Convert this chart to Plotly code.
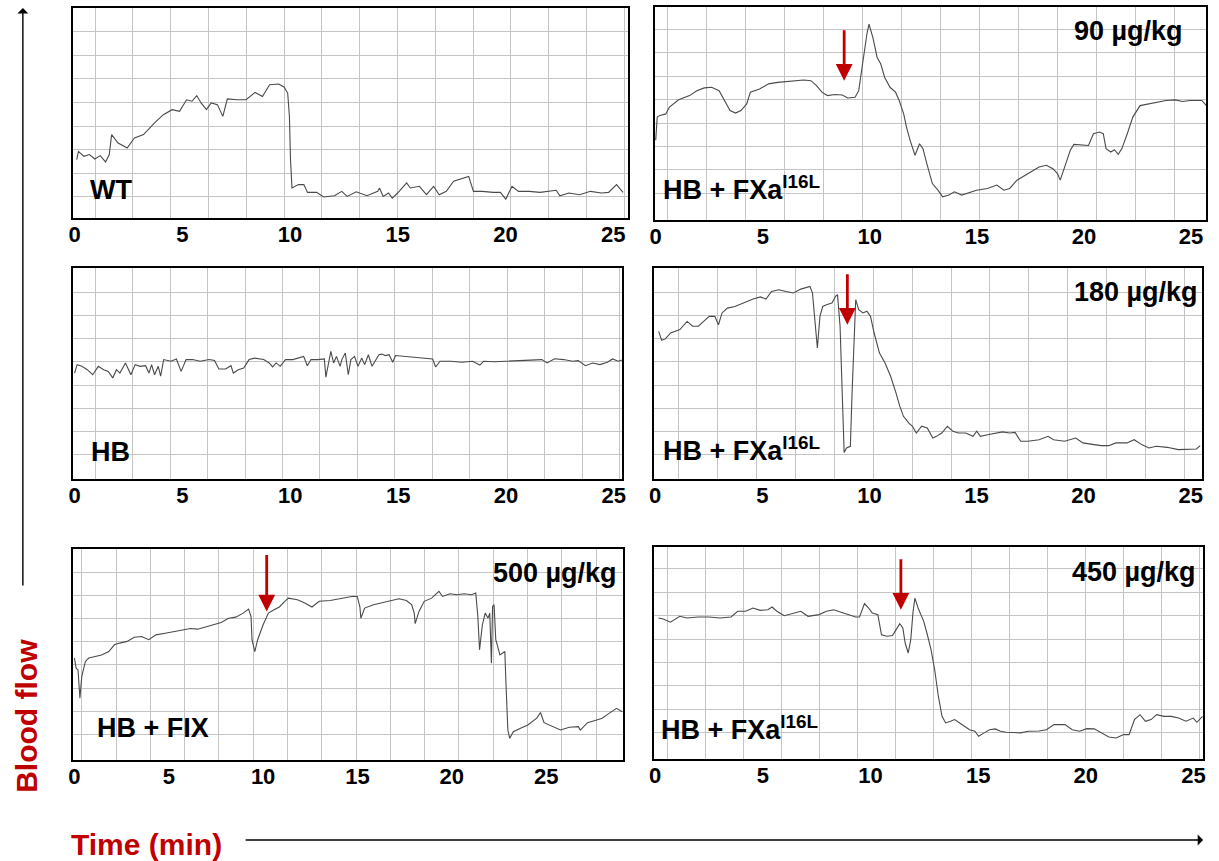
import plotly.graph_objects as go

FONT = "Liberation Sans, Arial, sans-serif"
RED = "#C00000"
GRID = "#c4c4c4"
TRACE = "#4a4a4a"

# Laser-Doppler blood-flow recordings: (time in min, flow in arbitrary units 0-100)
wt_trace = [
    (0.10, 27.8), (0.18, 31.7), (0.43, 29.4), (0.69, 30.2), (0.94, 28.1), (1.19, 29.7),
    (1.44, 26.7), (1.61, 30.2), (1.72, 39.7), (2.02, 35.7), (2.44, 33.3), (2.78, 38.1),
    (3.20, 39.7), (3.70, 45.2), (4.12, 49.2), (4.53, 51.6), (4.87, 50.8), (5.20, 56.3),
    (5.45, 55.6), (5.67, 58.3), (5.87, 54.8), (6.12, 51.6), (6.34, 54.8), (6.63, 54.0),
    (6.88, 48.4), (7.09, 56.7), (7.55, 56.3), (7.96, 56.3), (8.38, 59.8), (8.72, 57.9),
    (9.05, 63.5), (9.47, 63.8), (9.72, 62.4), (9.89, 59.5), (9.97, 48.4), (10.02, 27.8),
    (10.09, 14.3), (10.39, 15.9), (10.64, 15.9), (10.81, 12.2), (11.23, 12.2), (11.56, 10.0),
    (12.06, 10.6), (12.40, 12.7), (12.65, 10.3), (13.07, 12.5), (13.57, 10.6), (14.07, 12.7),
    (14.15, 14.3), (14.32, 10.3), (14.57, 11.9), (14.74, 9.5), (14.99, 11.9), (15.41, 16.7),
    (15.58, 14.3), (16.00, 15.1), (16.33, 11.1), (16.66, 15.1), (16.92, 11.1), (17.25, 12.7),
    (17.59, 17.5), (18.00, 19.0), (18.29, 19.8), (18.51, 12.7), (18.92, 12.7), (19.43, 12.2),
    (19.76, 12.2), (20.01, 9.0), (20.30, 15.1), (20.60, 12.7), (21.10, 12.7), (21.60, 12.2),
    (21.94, 12.7), (22.35, 13.2), (22.52, 10.6), (22.94, 11.9), (23.44, 11.1), (23.94, 12.7),
    (24.45, 11.9), (24.78, 12.2), (25.15, 15.9), (25.45, 12.2),
]

fxa90_trace = [
    (0.00, 37.4), (0.07, 48.3), (0.20, 49.1), (0.47, 49.8), (0.64, 53.0), (1.07, 56.4),
    (1.58, 58.4), (1.92, 60.7), (2.27, 62.0), (2.61, 62.3), (2.96, 60.7), (3.21, 56.1),
    (3.47, 51.4), (3.73, 50.2), (3.98, 51.4), (4.25, 54.5), (4.42, 60.0), (4.85, 61.5),
    (5.27, 63.9), (5.70, 64.6), (6.22, 65.1), (6.56, 65.4), (6.91, 65.7), (7.25, 65.4),
    (7.51, 63.1), (7.76, 60.0), (8.02, 58.4), (8.37, 58.9), (8.71, 58.7), (8.97, 57.3),
    (9.31, 57.6), (9.48, 60.7), (9.65, 73.2), (9.86, 87.2), (9.96, 91.9), (10.14, 85.7),
    (10.34, 76.3), (10.51, 73.2), (10.69, 67.0), (10.94, 62.3), (11.20, 60.0), (11.37, 56.1),
    (11.58, 49.8), (11.71, 43.6), (11.88, 37.4), (12.11, 30.4), (12.32, 35.8), (12.48, 33.5),
    (12.66, 26.5), (12.92, 17.1), (13.18, 14.0), (13.40, 10.9), (13.69, 11.7), (13.95, 13.2),
    (14.29, 11.7), (14.64, 12.8), (14.98, 14.0), (15.49, 14.8), (15.93, 16.4), (16.26, 14.0),
    (16.53, 14.8), (16.87, 18.7), (17.38, 21.8), (17.90, 24.9), (18.24, 25.7), (18.55, 24.1),
    (18.76, 21.8), (18.89, 18.7), (19.10, 24.9), (19.36, 32.7), (19.53, 35.5), (19.96, 35.0),
    (20.21, 35.0), (20.44, 40.5), (20.73, 41.3), (20.90, 40.5), (21.03, 33.5), (21.25, 31.9),
    (21.42, 33.0), (21.60, 30.8), (21.77, 33.5), (22.02, 40.5), (22.28, 48.3), (22.62, 53.7),
    (23.05, 54.5), (23.39, 55.3), (23.83, 56.1), (24.26, 56.4), (24.60, 55.6), (24.94, 56.1),
    (25.28, 56.1), (25.50, 56.1), (25.72, 53.7),
]

hb_trace = [
    (0.00, 50.2), (0.12, 54.2), (0.34, 53.4), (0.59, 51.8), (0.84, 49.4), (1.10, 53.4),
    (1.35, 51.8), (1.56, 51.0), (1.77, 47.9), (1.94, 51.8), (2.10, 50.2), (2.36, 55.0),
    (2.61, 49.4), (2.81, 54.2), (3.04, 53.4), (3.29, 53.7), (3.45, 50.2), (3.57, 54.2),
    (3.71, 49.4), (3.88, 53.4), (3.99, 48.7), (4.13, 56.6), (4.47, 55.8), (4.72, 56.9),
    (4.94, 51.0), (5.17, 56.6), (5.47, 56.6), (5.82, 55.8), (6.24, 56.6), (6.49, 56.2),
    (6.69, 52.1), (7.00, 52.1), (7.25, 53.7), (7.36, 50.2), (7.59, 51.8), (7.84, 52.6),
    (8.09, 56.6), (8.35, 57.3), (8.77, 56.6), (9.02, 55.0), (9.18, 53.1), (9.35, 55.0),
    (9.53, 53.4), (9.78, 56.6), (10.12, 56.6), (10.37, 57.3), (10.62, 58.1), (10.79, 53.7),
    (10.96, 56.6), (11.29, 56.6), (11.58, 56.9), (11.65, 48.3), (11.75, 53.4), (11.88, 60.5),
    (12.01, 55.0), (12.14, 58.1), (12.31, 53.4), (12.39, 56.6), (12.55, 59.7), (12.69, 49.4),
    (12.81, 56.6), (12.98, 58.1), (13.14, 53.4), (13.31, 57.3), (13.45, 54.2), (13.62, 58.9),
    (13.79, 53.4), (13.98, 56.6), (14.11, 58.9), (14.24, 59.2), (14.41, 58.5), (14.58, 58.9),
    (14.75, 55.3), (14.88, 58.5), (15.25, 58.1), (15.76, 57.7), (16.27, 57.3), (16.60, 56.9),
    (16.74, 53.1), (16.94, 55.8), (17.45, 55.8), (17.95, 55.3), (18.45, 55.8), (18.79, 54.0),
    (18.96, 55.8), (19.47, 55.6), (19.98, 55.8), (20.47, 56.1), (21.15, 56.2), (21.66, 56.6),
    (21.91, 55.0), (22.25, 57.0), (22.67, 56.6), (23.09, 55.8), (23.35, 56.1), (23.68, 53.7),
    (24.02, 55.0), (24.36, 54.2), (24.70, 55.3), (24.94, 56.9), (25.20, 55.8), (25.45, 56.6),
]

fxa180_trace = [
    (0.16, 70.0), (0.30, 65.7), (0.47, 66.4), (0.72, 69.2), (1.15, 70.8), (1.49, 74.7),
    (1.75, 72.4), (2.01, 72.4), (2.26, 74.7), (2.52, 77.1), (2.78, 77.1), (2.95, 73.1),
    (3.12, 78.7), (3.37, 81.0), (3.72, 81.8), (4.14, 83.7), (4.57, 85.3), (4.91, 86.3),
    (5.17, 85.3), (5.43, 88.9), (5.77, 89.7), (6.11, 88.9), (6.45, 88.2), (6.80, 90.0),
    (7.22, 91.3), (7.34, 88.2), (7.45, 75.5), (7.57, 62.1), (7.69, 77.1), (7.82, 81.8),
    (7.99, 82.6), (8.25, 83.4), (8.42, 86.6), (8.51, 87.4), (8.63, 72.4), (8.73, 40.8),
    (8.82, 12.6), (8.93, 14.7), (9.11, 15.5), (9.19, 40.8), (9.28, 64.5), (9.36, 85.0),
    (9.50, 80.3), (9.70, 78.7), (9.88, 79.5), (10.05, 77.1), (10.22, 69.2), (10.47, 59.7),
    (10.73, 55.0), (10.99, 48.7), (11.24, 40.8), (11.42, 34.4), (11.59, 29.7), (11.84, 26.5),
    (12.01, 25.0), (12.19, 21.8), (12.44, 25.0), (12.70, 24.2), (12.96, 19.4), (13.13, 20.2),
    (13.38, 21.8), (13.64, 25.0), (13.90, 22.6), (14.15, 21.8), (14.49, 21.8), (14.84, 20.2),
    (15.01, 22.6), (15.18, 20.2), (15.52, 21.0), (15.86, 21.8), (16.21, 22.3), (16.55, 21.8),
    (16.80, 22.1), (17.06, 17.9), (17.40, 17.9), (17.92, 18.6), (18.34, 20.2), (18.60, 18.6),
    (19.11, 17.9), (19.63, 19.4), (19.97, 17.1), (20.48, 16.3), (20.83, 15.8), (21.17, 15.8),
    (21.51, 17.1), (22.02, 17.1), (22.36, 18.6), (22.71, 16.3), (23.05, 14.7), (23.39, 15.5),
    (23.90, 15.0), (24.42, 13.9), (24.93, 13.9), (25.27, 14.2), (25.44, 15.8),
]

fix500_trace = [
    (0.00, 48.3), (0.09, 43.5), (0.19, 42.7), (0.29, 29.3), (0.39, 39.6), (0.48, 42.7),
    (0.58, 46.7), (0.76, 48.3), (1.06, 49.1), (1.44, 49.8), (1.82, 51.4), (2.12, 54.6),
    (2.40, 55.4), (2.79, 56.2), (3.17, 58.2), (3.56, 58.5), (3.94, 57.0), (4.32, 59.3),
    (4.81, 60.1), (5.29, 60.9), (5.68, 61.7), (6.15, 62.3), (6.53, 62.0), (7.02, 63.3),
    (7.40, 64.1), (7.78, 65.2), (8.17, 67.2), (8.55, 67.7), (8.94, 69.6), (9.23, 71.5),
    (9.36, 68.0), (9.41, 57.0), (9.56, 51.4), (9.71, 57.0), (10.00, 64.1), (10.28, 69.6),
    (10.58, 71.2), (10.86, 72.5), (11.15, 75.2), (11.34, 76.7), (11.82, 75.9), (12.21, 74.4),
    (12.59, 72.5), (12.97, 75.2), (13.55, 75.6), (14.13, 76.7), (14.70, 77.5), (14.99, 77.5),
    (15.13, 72.5), (15.18, 67.2), (15.38, 72.0), (15.85, 73.6), (16.34, 74.7), (16.63, 75.2),
    (17.20, 76.4), (17.59, 75.6), (17.87, 73.6), (18.01, 69.6), (18.06, 64.6), (18.26, 70.4),
    (18.54, 75.2), (18.93, 76.7), (19.32, 79.9), (19.51, 77.5), (19.90, 78.8), (20.28, 78.3),
    (20.66, 78.8), (21.05, 78.3), (21.27, 79.1), (21.38, 68.0), (21.47, 52.2), (21.62, 64.1),
    (21.77, 69.6), (21.92, 67.2), (22.01, 69.6), (22.10, 45.9), (22.16, 72.8), (22.24, 73.6),
    (22.33, 57.0), (22.43, 53.8), (22.55, 49.8), (22.68, 50.6), (22.81, 51.4), (22.87, 36.4),
    (22.97, 14.2), (23.07, 10.3), (23.26, 13.4), (23.64, 15.0), (24.03, 16.6), (24.50, 19.8),
    (24.70, 22.5), (24.89, 17.7), (25.28, 16.1), (25.76, 14.2), (26.23, 15.5), (26.71, 15.8),
    (26.81, 14.2), (27.19, 17.7), (27.68, 19.0), (27.97, 19.8), (28.35, 22.2), (28.73, 24.5),
    (29.03, 22.9),
]

fxa450_trace = [
    (0.15, 66.5), (0.37, 66.0), (0.71, 64.5), (0.97, 66.0), (1.14, 67.3), (1.48, 66.5),
    (1.99, 67.0), (2.50, 67.0), (3.01, 66.5), (3.52, 67.0), (3.83, 69.7), (4.20, 69.7),
    (4.54, 71.2), (4.88, 70.1), (5.23, 70.4), (5.43, 71.7), (5.65, 69.7), (5.99, 67.6),
    (6.42, 68.6), (6.76, 69.7), (7.10, 67.3), (7.61, 68.1), (7.95, 69.7), (8.29, 70.4),
    (8.63, 69.2), (8.97, 68.1), (9.31, 67.0), (9.49, 67.0), (9.62, 71.2), (9.72, 73.3),
    (9.91, 71.2), (10.08, 68.9), (10.34, 68.1), (10.51, 58.6), (10.76, 57.9), (11.02, 58.2),
    (11.19, 61.0), (11.36, 63.8), (11.50, 61.8), (11.61, 54.7), (11.75, 50.0), (11.87, 56.3),
    (11.97, 68.9), (12.06, 75.9), (12.21, 71.2), (12.47, 64.9), (12.64, 58.6), (12.81, 51.6),
    (12.98, 42.1), (13.15, 29.6), (13.32, 20.1), (13.49, 17.0), (13.71, 17.8), (13.91, 18.6),
    (14.09, 17.3), (14.34, 15.4), (14.60, 13.8), (14.85, 13.1), (15.02, 10.7), (15.28, 12.3),
    (15.53, 13.8), (15.79, 14.2), (16.04, 13.1), (16.30, 12.6), (16.64, 12.6), (16.98, 12.3),
    (17.32, 13.1), (17.83, 13.2), (18.17, 13.8), (18.52, 16.2), (19.03, 16.2), (19.37, 13.8),
    (19.71, 13.1), (20.05, 14.3), (20.39, 14.2), (20.73, 12.3), (21.07, 10.4), (21.41, 9.9),
    (21.75, 11.5), (22.01, 11.5), (22.26, 18.6), (22.52, 20.9), (22.77, 17.8), (23.03, 18.6),
    (23.29, 20.9), (23.63, 20.1), (23.97, 20.1), (24.31, 19.3), (24.65, 17.8), (24.99, 19.3),
    (25.16, 17.3), (25.42, 20.1),
]

time_ticks = [0, 5, 10, 15, 20, 25]

# time of intravenous injection (min)
injection_min = {"fxa90": 8.80, "fxa180": 8.97, "fix500": 10.19, "fxa450": 11.41}

FXA = "HB + FXa<sup>I16L</sup>"

panels = [
    dict(trace=wt_trace, label="WT", dose=None, inj=None,
         xd=[0.0566, 0.5152], yd=[0.7468, 0.9907], xr=[-0.05, 25.7],
         gx=(0.954, 1.754), gy=(10.2, 11.2), lab=(0.027, 0.133), dpos=None, arrow=None),
    dict(trace=fxa90_trace, label=FXA, dose="90 µg/kg", inj="fxa90",
         xd=[0.5369, 0.9926], yd=[0.7445, 0.9919], xr=[-0.05, 25.7],
         gx=(0.535, 1.821), gy=(12.5, 11.0), lab=(0.012, 0.150), dpos=(0.962, 0.887), arrow=(0.654, 52)),
    dict(trace=hb_trace, label="HB", dose=None, inj=None,
         xd=[0.0566, 0.5103], yd=[0.4437, 0.6887], xr=[-0.05, 25.4],
         gx=(0.960, 1.736), gy=(11.4, 11.03), lab=(0.029, 0.126), dpos=None, arrow=None),
    dict(trace=fxa180_trace, label=FXA, dose="180 µg/kg", inj="fxa180",
         xd=[0.5365, 0.9893], yd=[0.4437, 0.6887], xr=[-0.05, 25.53],
         gx=(1.101, 1.816), gy=(11.4, 11.03), lab=(0.013, 0.140), dpos=(0.997, 0.886), arrow=(0.731, 52)),
    dict(trace=fix500_trace, label="HB + FIX", dose="500 µg/kg", inj="fix500",
         xd=[0.0566, 0.5107], yd=[0.1173, 0.3624], xr=[-0.05, 29.07],
         gx=(0.393, 1.817), gy=(12.2, 10.96), lab=(0.039, 0.152), dpos=(0.992, 0.886), arrow=(0.704, 58)),
    dict(trace=fxa450_trace, label=FXA, dose="450 µg/kg", inj="fxa450",
         xd=[0.5365, 0.9902], yd=[0.1185, 0.3647], xr=[-0.05, 25.45],
         gx=(0.582, 1.765), gy=(12.3, 11.07), lab=(0.008, 0.144), dpos=(0.991, 0.882), arrow=(0.704, 52)),
]

fig = go.Figure()
annotations = []
layout_axes = {}

for i, p in enumerate(panels, start=1):
    sfx = "" if i == 1 else str(i)
    xa, ya = "x" + sfx, "y" + sfx
    t, flow = zip(*p["trace"])
    fig.add_trace(go.Scatter(
        x=t, y=flow, mode="lines", xaxis=xa, yaxis=ya,
        line=dict(color=TRACE, width=1.1), showlegend=False, hoverinfo="skip",
    ))

    # chart-paper grid of the recorder
    gx0, gdx = p["gx"]
    grid_x = []
    v = gx0
    while v < p["xr"][1] - 0.1:
        grid_x.append(round(v, 3))
        v += gdx
    gy0, gdy = p["gy"]
    grid_y = [round(gy0 + k * gdy, 2) for k in range(8)]

    layout_axes["xaxis" + sfx] = dict(
        domain=p["xd"], anchor=ya, range=p["xr"],
        tickmode="array", tickvals=time_ticks, ticks="", showgrid=False,
        zeroline=False, showline=True, mirror=True, linecolor="black", linewidth=2,
        tickfont=dict(family=FONT, size=22, color="black", weight="bold"),
        ticklabelstandoff=-4,
        minor=dict(tickmode="array", tickvals=grid_x, showgrid=True,
                   gridcolor=GRID, gridwidth=1.3, ticks=""),
        fixedrange=True,
    )
    layout_axes["yaxis" + sfx] = dict(
        domain=p["yd"], anchor=xa, range=[0, 100],
        tickmode="array", tickvals=grid_y, showticklabels=False, ticks="",
        showgrid=True, gridcolor=GRID, gridwidth=1.3,
        zeroline=False, showline=True, mirror=True, linecolor="black", linewidth=2,
        fixedrange=True,
    )

    annotations.append(dict(
        xref=xa + " domain", yref=ya + " domain", x=p["lab"][0], y=p["lab"][1],
        xanchor="left", yanchor="middle", showarrow=False,
        text="<b>" + p["label"] + "</b>",
        font=dict(family=FONT, size=27, color="black"),
    ))
    if p["dose"]:
        annotations.append(dict(
            xref=xa + " domain", yref=ya + " domain", x=p["dpos"][0], y=p["dpos"][1],
            xanchor="right", yanchor="middle", showarrow=False,
            text="<b>" + p["dose"] + "</b>",
            font=dict(family=FONT, size=27, color="black"),
        ))
    if p["inj"]:
        head_y, length = p["arrow"]
        annotations.append(dict(
            xref=xa, yref=ya + " domain", x=injection_min[p["inj"]], y=head_y,
            ax=0, ay=-length, text="", showarrow=True,
            arrowhead=2, arrowsize=1.2, arrowwidth=2.8, arrowcolor=RED, standoff=0,
        ))

# global axis labels with long arrows
annotations += [
    dict(xref="paper", yref="paper", x=0.0172, y=0.1684, text="<b>Blood flow</b>",
         textangle=-90, showarrow=False, xanchor="center", yanchor="middle",
         font=dict(family=FONT, size=30, color=RED)),
    dict(xref="paper", yref="paper", x=0.1169, y=0.0186, text="<b>Time (min)</b>",
         showarrow=False, xanchor="center", yanchor="middle",
         font=dict(family=FONT, size=30, color=RED)),
    dict(xref="paper", yref="paper", x=0.01477, y=0.9907, ax=0, ay=579, text="",
         showarrow=True, arrowhead=1, arrowsize=1.3, arrowwidth=1.4, arrowcolor="black", standoff=0),
    dict(xref="paper", yref="paper", x=0.9902, y=0.0244, ax=-959, ay=0, text="",
         showarrow=True, arrowhead=1, arrowsize=1.3, arrowwidth=1.4, arrowcolor="black", standoff=0),
]

fig.update_layout(
    width=1219, height=861,
    margin=dict(l=0, r=0, t=0, b=0),
    paper_bgcolor="white", plot_bgcolor="white",
    showlegend=False,
    annotations=annotations,
    **layout_axes,
)

fig.write_html("out.html")
